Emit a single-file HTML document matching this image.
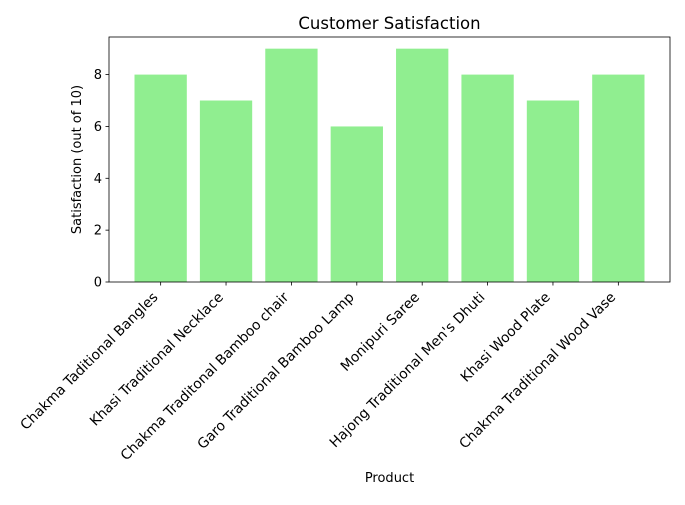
<!DOCTYPE html>
<html><head><meta charset="utf-8"><style>body{margin:0;background:#fff}svg{font-family:"DejaVu Sans","Liberation Sans",sans-serif}</style></head>
<body>
<svg id="chart" width="685" height="500"></svg>
<script>
const categories=["Chakma Taditional Bangles","Khasi Traditional Necklace","Chakma Traditonal Bamboo chair","Garo Traditional Bamboo Lamp","Monipuri Saree","Hajong Traditional Men's Dhuti","Khasi Wood Plate","Chakma Traditional Wood Vase"];
const values=[8,7,9,6,9,8,7,8];
const yTicks=[0,2,4,6,8];
const NS="http://www.w3.org/2000/svg";
const svg=document.getElementById('chart');
const L=109,R=670,T=37,B=282;
const n=categories.length;
const xmin=-0.4-0.05*(n-1+0.8),xmax=n-1+0.4+0.05*(n-1+0.8);
const ymax=Math.max(...values)*1.05;
const x=v=>L+(v-xmin)/(xmax-xmin)*(R-L);
const y=v=>B-v/ymax*(B-T);
function mk(t,a,p){const e=document.createElementNS(NS,t);for(const k in a)e.setAttribute(k,a[k]);(p||svg).appendChild(e);return e;}
values.forEach((v,i)=>{
 const r=mk('rect',{x:x(i-0.4),y:y(v),width:x(i+0.4)-x(i-0.4),height:B-y(v),fill:'#90ee90'});
 
 
 const tk=mk('line',{x1:x(i),x2:x(i),y1:B,y2:B+3.5,stroke:'#000','stroke-width':0.8});
 
 
 const tx=x(i)-2,ty=B+16;
 const t=mk('text',{x:tx,y:ty,'font-size':13.9,'text-anchor':'end',transform:`rotate(-45 ${tx} ${ty})`});
 t.textContent=categories[i];
 
 
});
yTicks.forEach(v=>{
 const tk=mk('line',{x1:L-3.5,x2:L,y1:y(v),y2:y(v),stroke:'#000','stroke-width':0.8});
 
 
 const t=mk('text',{x:L-7,y:y(v)+4.5,'font-size':13,'text-anchor':'end'});
 t.textContent=v;
 
 
});
const fr=mk('rect',{x:L,y:T,width:R-L,height:B-T,fill:'none',stroke:'#000','stroke-width':0.8});


const ti=mk('text',{x:(L+R)/2,y:29,'font-size':16.5,'text-anchor':'middle'});
ti.textContent='Customer Satisfaction';


const xl=mk('text',{x:(L+R)/2,y:482,'font-size':13,'text-anchor':'middle'});
xl.textContent='Product';


const yl=mk('text',{x:81,y:(T+B)/2,'font-size':13,'text-anchor':'middle',transform:`rotate(-90 81 ${(T+B)/2})`});
yl.textContent='Satisfaction (out of 10)';


</script>
</body></html>
